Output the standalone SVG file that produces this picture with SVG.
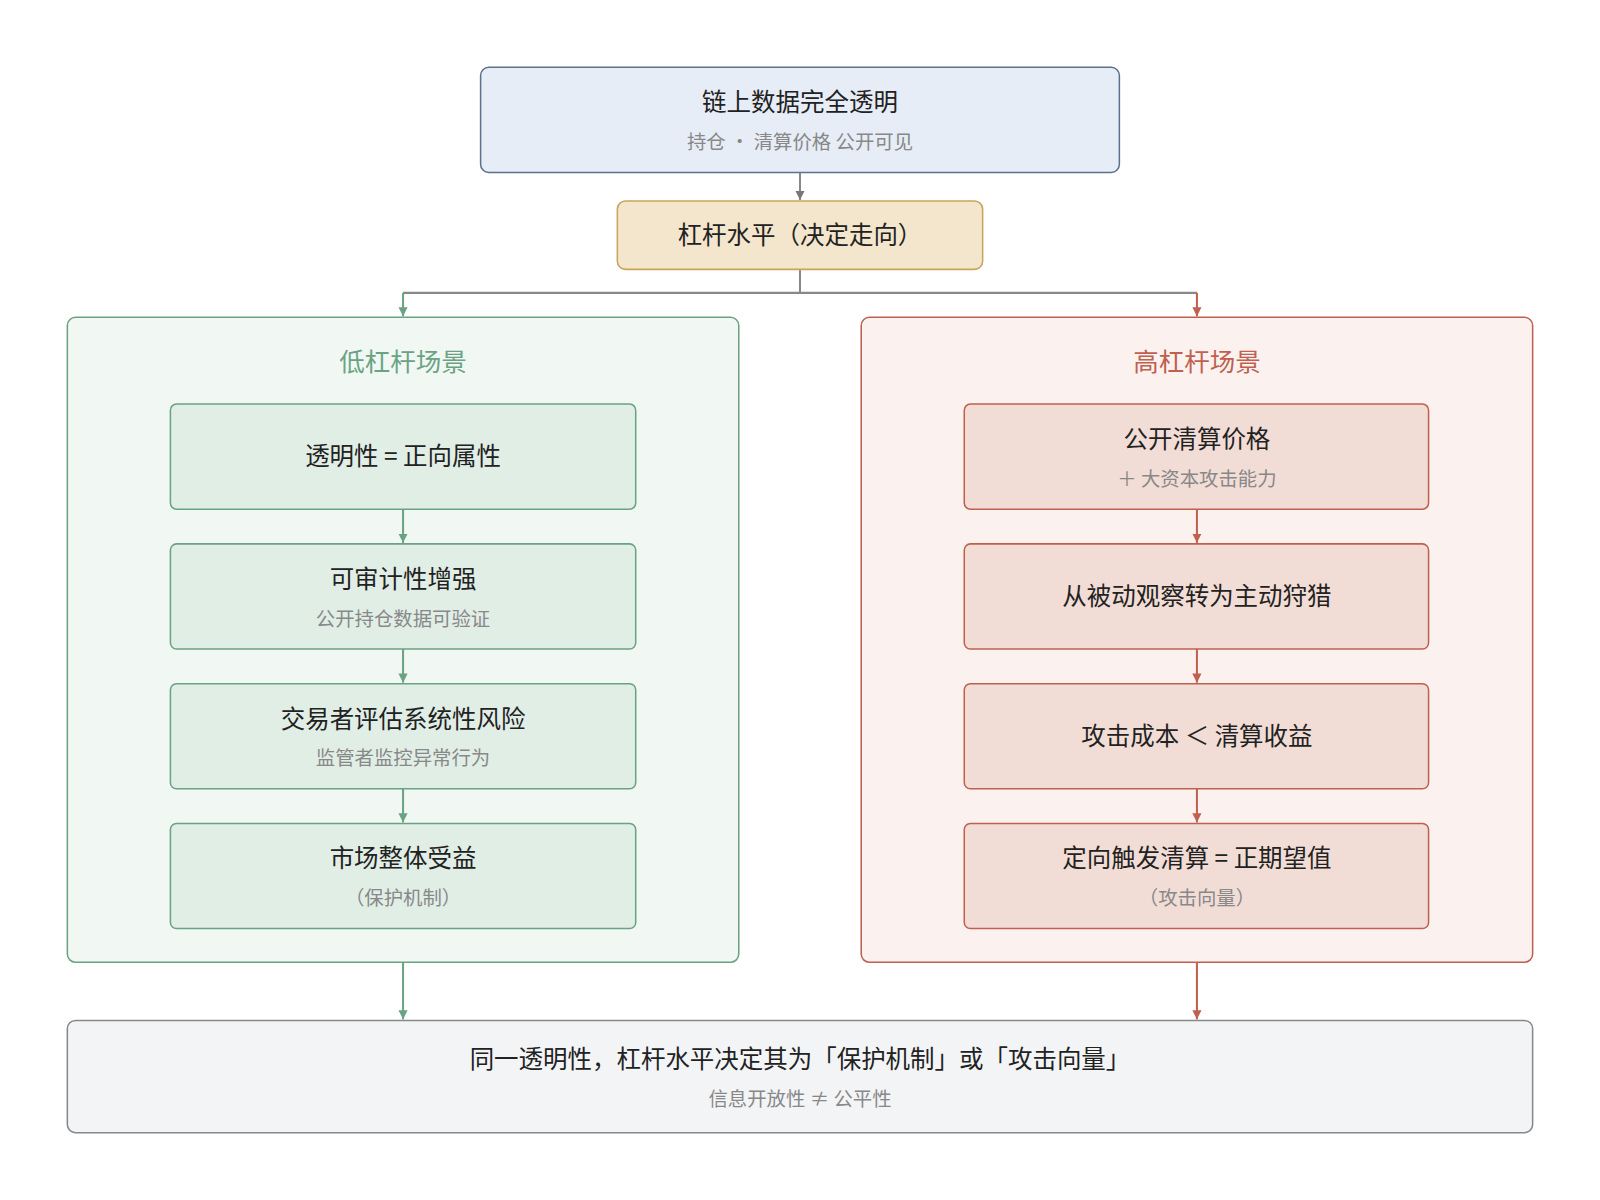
<svg xmlns="http://www.w3.org/2000/svg" width="1600" height="1200" viewBox="0 0 1600 1200">
<defs>
<style>
text{font-family:"Noto Sans CJK SC","Noto Sans",sans-serif;text-anchor:middle}
.t{font-size:24px;fill:#222}
.s{font-size:19px;fill:#888}
.g{fill:#e1eee6;stroke:#6aa383;stroke-width:1.5}
.r{fill:#f2ddd6;stroke:#c0604f;stroke-width:1.5}
.cg{stroke:#6aa383;stroke-width:2;fill:none}
.cr{stroke:#c0604f;stroke-width:2;fill:none}
.cy{stroke:#888;stroke-width:2;fill:none}
</style>
<marker id="ag" viewBox="0 0 10 10" refX="10" refY="5" markerWidth="9" markerHeight="9" orient="auto" markerUnits="userSpaceOnUse"><path d="M0,0L10,5L0,10z" fill="#6aa383"/></marker>
<marker id="ar" viewBox="0 0 10 10" refX="10" refY="5" markerWidth="9" markerHeight="9" orient="auto" markerUnits="userSpaceOnUse"><path d="M0,0L10,5L0,10z" fill="#c0604f"/></marker>
<marker id="ay" viewBox="0 0 10 10" refX="10" refY="5" markerWidth="9" markerHeight="9" orient="auto" markerUnits="userSpaceOnUse"><path d="M0,0L10,5L0,10z" fill="#777"/></marker>
</defs>
<rect width="1600" height="1200" fill="#fff"/>
<g transform="scale(1.0204)">
<g id="left-group"><rect x="66" y="311" width="658" height="632" rx="8" fill="#f1f7f3" stroke="#6aa383" stroke-width="1.5"/><text x="395" y="364" style="font-size:25px;fill:#6aa383">低杠杆场景</text></g>
<g id="right-group"><rect x="844" y="311" width="658" height="632" rx="8" fill="#fbf2ef" stroke="#c0604f" stroke-width="1.5"/><text x="1173" y="364" style="font-size:25px;fill:#c0604f">高杠杆场景</text></g>
<g id="connectors">
<path class="cy" d="M784,169V196" marker-end="url(#ay)"/>
<path class="cy" d="M784,264V287H395" /><path class="cy" d="M784,287H1173"/>
<path class="cg" d="M395,287V310" marker-end="url(#ag)"/>
<path class="cr" d="M1173,287V310" marker-end="url(#ar)"/>
<path class="cg" d="M395,499V532" marker-end="url(#ag)"/>
<path class="cg" d="M395,636V669" marker-end="url(#ag)"/>
<path class="cg" d="M395,773V806" marker-end="url(#ag)"/>
<path class="cr" d="M1173,499V532" marker-end="url(#ar)"/>
<path class="cr" d="M1173,636V669" marker-end="url(#ar)"/>
<path class="cr" d="M1173,773V806" marker-end="url(#ar)"/>
<path class="cg" d="M395,943V999" marker-end="url(#ag)"/>
<path class="cr" d="M1173,943V999" marker-end="url(#ar)"/>
</g>
<g id="top"><rect x="471" y="66" width="626" height="103" rx="8" fill="#e6edf6" stroke="#5a7190" stroke-width="1.5"/><text class="t" x="784" y="109">链上数据完全透明</text><text class="s" x="784" y="146">持仓 · 清算价格 公开可见</text></g>
<g id="lever"><rect x="605" y="197" width="358" height="67" rx="8" fill="#f3e6cc" stroke="#c9a55a" stroke-width="1.5"/><text class="t" x="784" y="239">杠杆水平（决定走向）</text></g>
<g id="l1"><rect class="g" x="167" y="396" width="456" height="103" rx="6"/><text class="t" x="395" y="456">透明性 = 正向属性</text></g>
<g id="l2"><rect class="g" x="167" y="533" width="456" height="103" rx="6"/><text class="t" x="395" y="576">可审计性增强</text><text class="s" x="395" y="613">公开持仓数据可验证</text></g>
<g id="l3"><rect class="g" x="167" y="670" width="456" height="103" rx="6"/><text class="t" x="395" y="713">交易者评估系统性风险</text><text class="s" x="395" y="750">监管者监控异常行为</text></g>
<g id="l4"><rect class="g" x="167" y="807" width="456" height="103" rx="6"/><text class="t" x="395" y="850">市场整体受益</text><text class="s" x="395" y="887">（保护机制）</text></g>
<g id="r1"><rect class="r" x="945" y="396" width="455" height="103" rx="6"/><text class="t" x="1173" y="439">公开清算价格</text><text class="s" x="1173" y="476">＋ 大资本攻击能力</text></g>
<g id="r2"><rect class="r" x="945" y="533" width="455" height="103" rx="6"/><text class="t" x="1173" y="593">从被动观察转为主动狩猎</text></g>
<g id="r3"><rect class="r" x="945" y="670" width="455" height="103" rx="6"/><text class="t" x="1173" y="730">攻击成本 ＜ 清算收益</text></g>
<g id="r4"><rect class="r" x="945" y="807" width="455" height="103" rx="6"/><text class="t" x="1173" y="850">定向触发清算 = 正期望值</text><text class="s" x="1173" y="887">（攻击向量）</text></g>
<g id="bottom"><rect x="66" y="1000" width="1436" height="110" rx="8" fill="#f3f4f6" stroke="#888" stroke-width="1.5"/><text class="t" x="784" y="1047">同一透明性，杠杆水平决定其为「保护机制」或「攻击向量」</text><text class="s" x="784" y="1084">信息开放性 ≠ 公平性</text></g>
</g>
</svg>
